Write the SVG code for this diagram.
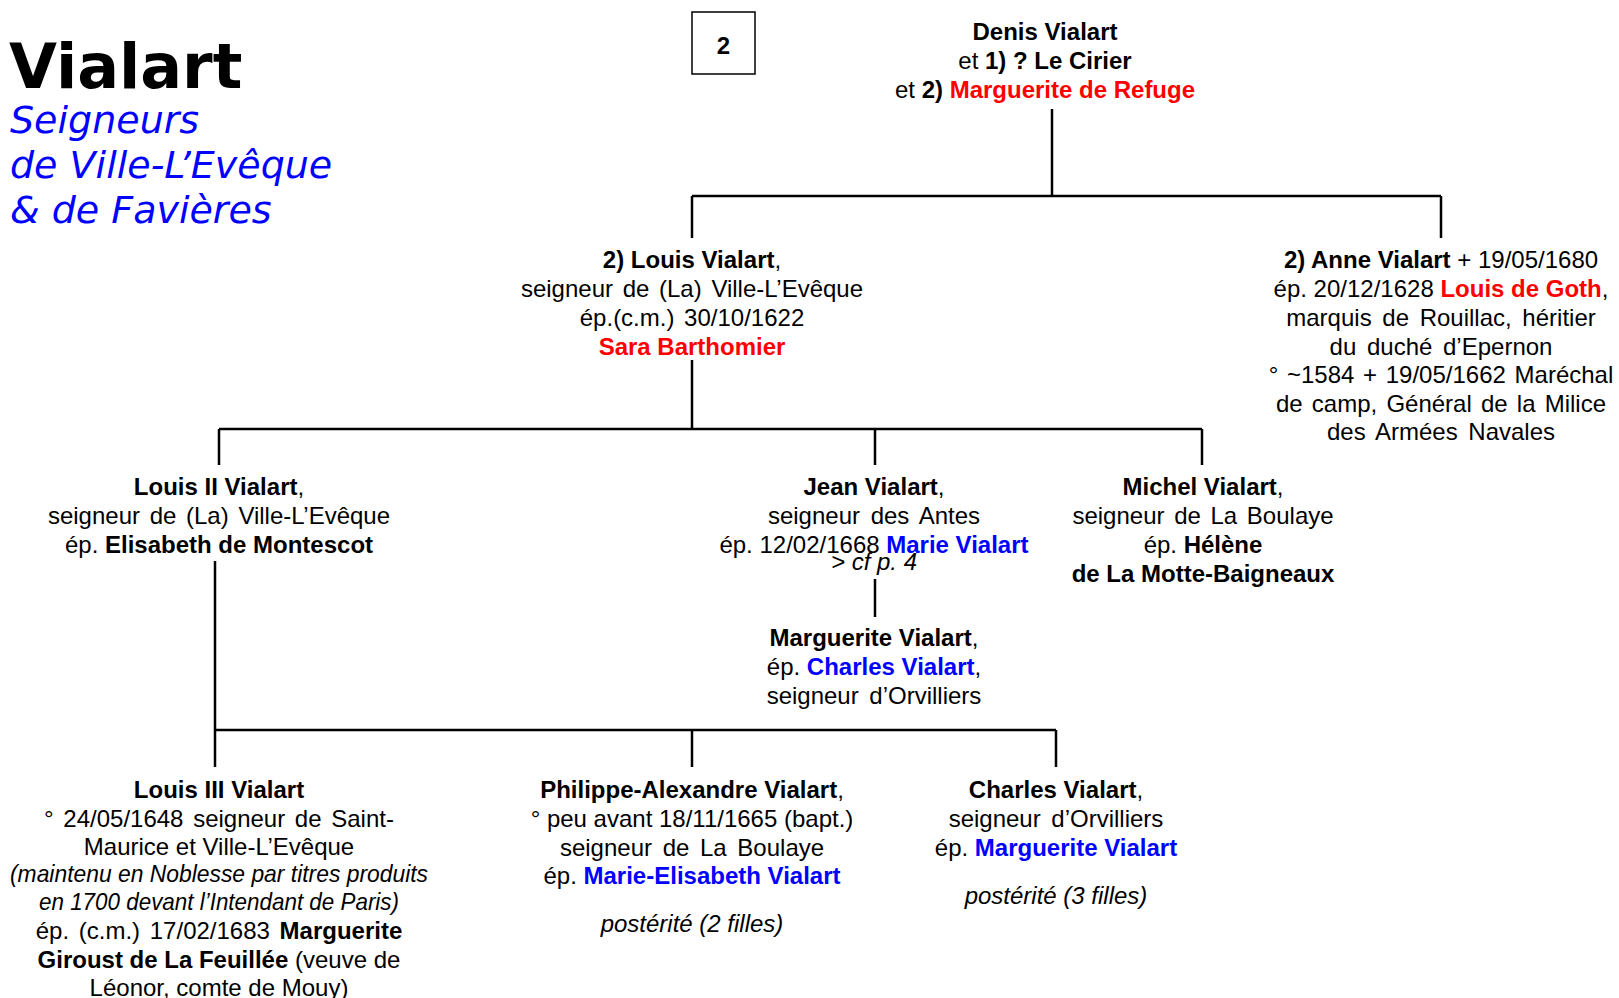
<svg xmlns="http://www.w3.org/2000/svg" width="1619" height="998" viewBox="0 0 1619 998">
<style>
.t{font-family:"Liberation Sans",Arial,sans-serif;font-size:24px;text-anchor:middle;fill:#000}
.b{font-weight:bold}
.r{fill:#FF0000;font-weight:bold}
.bl{fill:#0000FF;font-weight:bold}
.i{font-style:italic}
.ttl{font-family:"DejaVu Sans",Verdana,sans-serif;font-weight:bold;font-size:62px;fill:#000}
.sub{font-family:"DejaVu Sans",Verdana,sans-serif;font-style:italic;font-size:38px;fill:#0000FF}
.ln{fill:none;stroke:#000;stroke-width:2.5}
</style>
<rect width="1619" height="998" fill="#fff"/>
<g id="title">
<text class="ttl" x="9" y="88">Vialart</text>
<text class="sub" x="10" y="133">Seigneurs</text>
<text class="sub" x="10" y="178">de Ville-L’Evêque</text>
<text class="sub" x="10" y="223">&amp; de Favières</text>
</g>
<g id="page">
<rect x="692" y="12" width="63" height="62" fill="#fff" stroke="#000" stroke-width="1.5"/>
<text class="t b" x="723.5" y="54" font-size="28">2</text>
</g>
<g id="connectors">
<path class="ln" d="M1052 109V196M692 196H1441M692 196V238M1441 196V238"/>
<path class="ln" d="M692 360V429M219 429H1202M219 429V465M875 429V465M1202 429V465"/>
<path class="ln" d="M875 579V617"/>
<path class="ln" d="M215 561V730M215 730H1056M215 730V767M692 730V767M1056 730V767"/>
</g>
<g id="denis">
<text class="t" x="1045" y="40"><tspan class="b">Denis Vialart</tspan></text>
<text class="t" x="1045" y="69">et <tspan class="b">1) ? Le Cirier</tspan></text>
<text class="t" x="1045" y="98">et <tspan class="b">2) </tspan><tspan class="r">Marguerite de Refuge</tspan></text>
</g>
<g id="louis">
<text class="t" x="692" y="268"><tspan class="b">2) Louis Vialart</tspan>,</text>
<text class="t" x="692" y="297" word-spacing="3">seigneur de (La) Ville-L’Evêque</text>
<text class="t" x="692" y="326" word-spacing="3">ép.(c.m.) 30/10/1622</text>
<text class="t" x="692" y="355"><tspan class="r">Sara Barthomier</tspan></text>
</g>
<g id="anne">
<text class="t" x="1441" y="268"><tspan class="b">2) Anne Vialart</tspan> + 19/05/1680</text>
<text class="t" x="1441" y="297">ép. 20/12/1628 <tspan class="r">Louis de Goth</tspan>,</text>
<text class="t" x="1441" y="326" word-spacing="4">marquis de Rouillac, héritier</text>
<text class="t" x="1441" y="355" word-spacing="4">du duché d’Epernon</text>
<text class="t" x="1441" y="383" word-spacing="2">° ~1584 + 19/05/1662 Maréchal</text>
<text class="t" x="1441" y="412" word-spacing="2.5">de camp, Général de la Milice</text>
<text class="t" x="1441" y="440" word-spacing="4">des Armées Navales</text>
</g>
<g id="louis2">
<text class="t" x="219" y="495"><tspan class="b">Louis II Vialart</tspan>,</text>
<text class="t" x="219" y="524" word-spacing="3">seigneur de (La) Ville-L’Evêque</text>
<text class="t" x="219" y="553">ép. <tspan class="b">Elisabeth de Montescot</tspan></text>
</g>
<g id="jean">
<text class="t" x="874" y="495"><tspan class="b">Jean Vialart</tspan>,</text>
<text class="t" x="874" y="524" word-spacing="4">seigneur des Antes</text>
<text class="t" x="874" y="553">ép. 12/02/1668 <tspan class="bl">Marie Vialart</tspan></text>
<text class="t i" x="874" y="570" font-size="19">&gt; cf p. 4</text>
</g>
<g id="michel">
<text class="t" x="1203" y="495"><tspan class="b">Michel Vialart</tspan>,</text>
<text class="t" x="1203" y="524" word-spacing="3">seigneur de La Boulaye</text>
<text class="t" x="1203" y="553">ép. <tspan class="b">Hélène</tspan></text>
<text class="t b" x="1203" y="582">de La Motte-Baigneaux</text>
</g>
<g id="marguerite">
<text class="t" x="874" y="646"><tspan class="b">Marguerite Vialart</tspan>,</text>
<text class="t" x="874" y="675">ép. <tspan class="bl">Charles Vialart</tspan>,</text>
<text class="t" x="874" y="704" word-spacing="4">seigneur d’Orvilliers</text>
</g>
<g id="louis3">
<text class="t" x="219" y="798"><tspan class="b">Louis III Vialart</tspan></text>
<text class="t" x="219" y="827" word-spacing="3">° 24/05/1648 seigneur de Saint-</text>
<text class="t" x="219" y="855">Maurice et Ville-L’Evêque</text>
<text class="t i" x="219" y="882" font-size="20" textLength="418" lengthAdjust="spacingAndGlyphs">(maintenu en Noblesse par titres produits</text>
<text class="t i" x="219" y="910" font-size="20" textLength="360" lengthAdjust="spacingAndGlyphs">en 1700 devant l’Intendant de Paris)</text>
<text class="t" x="219" y="939" word-spacing="3">ép. (c.m.) 17/02/1683 <tspan class="b">Marguerite</tspan></text>
<text class="t" x="219" y="968"><tspan class="b">Giroust de La Feuillée</tspan> (veuve de</text>
<text class="t" x="219" y="996">Léonor, comte de Mouy)</text>
</g>
<g id="philippe">
<text class="t" x="692" y="798"><tspan class="b">Philippe-Alexandre Vialart</tspan>,</text>
<text class="t" x="692" y="827">° peu avant 18/11/1665 (bapt.)</text>
<text class="t" x="692" y="856" word-spacing="4">seigneur de La Boulaye</text>
<text class="t" x="692" y="884">ép. <tspan class="bl">Marie-Elisabeth Vialart</tspan></text>
<text class="t i" x="692" y="932">postérité (2 filles)</text>
</g>
<g id="charles">
<text class="t" x="1056" y="798"><tspan class="b">Charles Vialart</tspan>,</text>
<text class="t" x="1056" y="827" word-spacing="4">seigneur d’Orvilliers</text>
<text class="t" x="1056" y="856">ép. <tspan class="bl">Marguerite Vialart</tspan></text>
<text class="t i" x="1056" y="904">postérité (3 filles)</text>
</g>
</svg>
